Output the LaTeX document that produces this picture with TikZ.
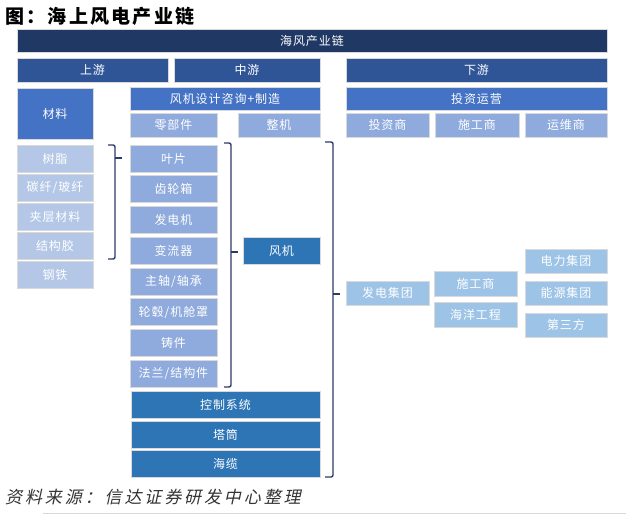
\documentclass[tikz,border=0pt]{standalone}
\usepackage{fontspec}
\setmainfont[LetterSpace=8]{Noto Sans CJK SC}
\newfontfamily\titlefont[LetterSpace=12]{Noto Sans CJK SC}
\newfontfamily\capfont[FakeSlant=0.22,LetterSpace=17]{Noto Sans CJK SC}
\definecolor{cNavy}{HTML}{203864}
\definecolor{cDark}{HTML}{2F5597}
\definecolor{cMid}{HTML}{4472C4}
\definecolor{cLight}{HTML}{8FAADC}
\definecolor{cPale}{HTML}{B4C7E7}
\definecolor{cSteel}{HTML}{2E75B6}
\definecolor{cSky}{HTML}{9DC3E6}
\definecolor{cBrk}{HTML}{2B3A67}
\tikzset{
  box/.style={draw=white!85!black, line width=0.6pt, text=white, font=\fontsize{12}{14}\selectfont, inner sep=0pt, anchor=center},
  brk/.style={draw=cBrk, line width=1.4pt, rounded corners=2pt},
}
\begin{document}
\begin{tikzpicture}[x=1pt,y=-1pt]
\useasboundingbox (0,0) rectangle (626,514);
% title
\node[anchor=west, inner sep=0pt, font=\titlefont\bfseries\fontsize{19}{21}\selectfont, text=black] (title) at (5,16) {图：海上风电产业链};
% header rows
\node[box, fill=cNavy, minimum width=590, minimum height=23] (chain) at (312,40.5) {海风产业链};
\node[box, fill=cDark, minimum width=151, minimum height=24] (up) at (92.5,70) {上游};
\node[box, fill=cDark, minimum width=146, minimum height=24] (mid) at (247,70) {中游};
\node[box, fill=cDark, minimum width=261, minimum height=24] (down) at (476.5,70) {下游};
\node[box, fill=cMid, minimum width=76, minimum height=51] (mat) at (55,113.5) {材料};
\node[box, fill=cMid, minimum width=190, minimum height=23] (design) at (225,98.5) {风机设计咨询+制造};
\node[box, fill=cMid, minimum width=261, minimum height=23] (invop) at (476.5,98.5) {投资运营};
\node[box, fill=cLight, minimum width=87, minimum height=24] (parts) at (173.5,125) {零部件};
\node[box, fill=cLight, minimum width=82, minimum height=24] (whole) at (279,125) {整机};
\node[box, fill=cLight, minimum width=83, minimum height=24] (investor) at (387.5,125) {投资商};
\node[box, fill=cLight, minimum width=84, minimum height=24] (builder) at (477,125) {施工商};
\node[box, fill=cLight, minimum width=82, minimum height=24] (maint) at (566,125) {运维商};
% materials
\foreach \t [count=\i from 0] in {树脂,碳纤/玻纤,夹层材料,结构胶,钢铁}{
  \node[box, fill=cPale, minimum width=76, minimum height=27] (m\i) at (55,158.5+29.1*\i) {\t};
}
% parts
\foreach \t [count=\i from 0] in {叶片,齿轮箱,发电机,变流器,主轴/轴承,轮毂/机舱罩,铸件,法兰/结构件}{
  \node[box, fill=cLight, minimum width=87, minimum height=27] (p\i) at (173.5,158.5+30.72*\i) {\t};
}
\node[box, fill=cSteel, minimum width=189, minimum height=27] (ctrl) at (225.5,404.5) {控制系统};
\node[box, fill=cSteel, minimum width=189, minimum height=27] (tower) at (225.5,434.5) {塔筒};
\node[box, fill=cSteel, minimum width=189, minimum height=27] (cable) at (225.5,464) {海缆};
\node[box, fill=cSteel, minimum width=77, minimum height=27] (turbine) at (281.5,250.5) {风机};
% downstream
\node[box, fill=cSky, minimum width=83, minimum height=24] (gen) at (387.5,293) {发电集团};
\node[box, fill=cSky, minimum width=83, minimum height=25] (con) at (475.5,283.5) {施工商};
\node[box, fill=cSky, minimum width=83, minimum height=25] (ocean) at (475.5,314.5) {海洋工程};
\node[box, fill=cSky, minimum width=82, minimum height=24] (power) at (566,261) {电力集团};
\node[box, fill=cSky, minimum width=82, minimum height=24] (energy) at (566,293) {能源集团};
\node[box, fill=cSky, minimum width=82, minimum height=24] (third) at (566,325) {第三方};
% brackets
\draw[brk] (108,145) -- (115,145) -- (115,259) -- (108,259);
\draw[cBrk, line width=1.4pt] (115,158) -- (122,158);
\draw[brk] (224,143) -- (231,143) -- (231,387) -- (224,387);
\draw[cBrk, line width=1.4pt] (231,252) -- (238,252);
\draw[brk] (325,142) -- (333,142) -- (333,477) -- (325,477);
\draw[cBrk, line width=1.4pt] (333,294) -- (340,294);
% caption
\node[anchor=west, inner sep=0pt, font=\capfont\fontsize{17}{19}\selectfont, text=black!80] (cap) at (5,497) {资料来源：信达证券研发中心整理};
\draw[black!15, line width=1pt] (43,513) -- (626,513);
\end{tikzpicture}
\end{document}
